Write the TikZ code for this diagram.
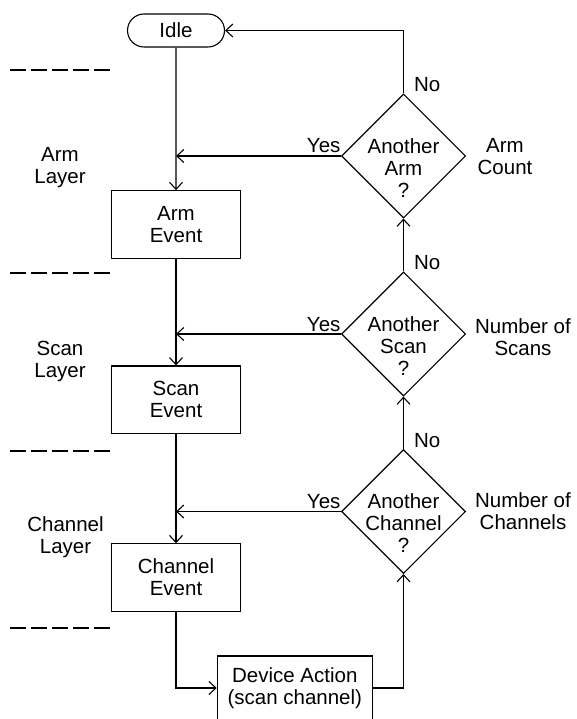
\documentclass[tikz,border=0pt]{standalone}
\usepackage{fontspec}
\setmainfont{Liberation Sans}
\usetikzlibrary{arrows.meta,shapes.geometric,shapes.misc}
\begin{document}
\begin{tikzpicture}[x=1pt,y=-1pt,
  font=\fontsize{20.5}{22}\selectfont,
  line width=1.1pt,
  flow/.style={-{Straight Barb[length=7pt,width=13pt,line width=1.1pt]}},
  box/.style={draw, rectangle, minimum width=128.5pt, minimum height=67.5pt, inner sep=0pt, align=center},
  dia/.style={draw, diamond, minimum width=124pt, minimum height=124pt, inner sep=0pt},
  txt/.style={align=center, inner sep=0pt},
  sep/.style={dash pattern=on 16pt off 5pt},
]
\useasboundingbox (0,0) rectangle (576,719);

% separators
\draw[sep] (10,70) -- (110,70);
\draw[sep] (10,273) -- (110,273);
\draw[sep] (10,451) -- (110,451);
\draw[sep] (10,628) -- (110,628);

% layer labels
\node[txt] (larm) at (60,167.5) {Arm\\Layer};
\node[txt] (lscan) at (60,361) {Scan\\Layer};
\node[txt] (lchan) at (65.5,537.3) {Channel\\Layer};

% main nodes
\node[draw, rounded rectangle, minimum width=97pt, minimum height=33pt, inner sep=0pt] (idle) at (176,30.5) {Idle};
\node[box] (arm) at (176,224.4) {Arm\\Event};
\node[box] (scan) at (176,399.7) {Scan\\Event};
\node[box] (chan) at (176,577.5) {Channel\\Event};
\node[draw, rectangle, minimum width=155pt, minimum height=64pt, inner sep=0pt, align=center] (dev) at (294.8,688) {Device Action\\(scan channel)};

% decisions
\node[dia] (d1) at (403.5,156) {};
\node[dia] (d2) at (403.5,334) {};
\node[dia] (d3) at (403.5,511.5) {};
\node[txt] (t1) at ([yshift=-12pt]d1.center) {Another\\Arm\\?};
\node[txt] (t2) at ([yshift=-12pt]d2.center) {Another\\Scan\\?};
\node[txt] (t3) at ([yshift=-12pt]d3.center) {Another\\Channel\\?};

% right labels
\node[txt] (r1) at (505,156.7) {Arm\\Count};
\node[txt] (r2) at (523,336.7) {Number of\\Scans};
\node[txt] (r3) at (523,511.5) {Number of\\Channels};

% yes / no labels
\node[txt, anchor=base east] (y1) at ([yshift=3pt]d1.west) {Yes};
\node[txt, anchor=base east] (y2) at ([yshift=3pt]d2.west) {Yes};
\node[txt, anchor=base east] (y3) at ([yshift=3pt]d3.west) {Yes};
\node[txt, anchor=base west] (n1) at ([xshift=10pt,yshift=1.5pt]d1.north) {No};
\node[txt, anchor=base west] (n2) at ([xshift=10pt,yshift=1.5pt]d2.north) {No};
\node[txt, anchor=base west] (n3) at ([xshift=10pt,yshift=1.5pt]d3.north) {No};

% connectors
\draw[flow] (idle) -- (arm);
\draw[flow] (arm) -- (scan);
\draw[flow] (scan) -- (chan);
\draw[flow] (chan.south) |- (dev.west);
\draw[flow] (dev.east) -| (d3.south);
\draw[flow] (d3) -- (d2);
\draw[flow] (d2) -- (d1);
\draw[flow] (d1.north) |- (idle.east);
\draw[flow] (d1.west) -- (d1.west -| idle.south);
\draw[flow] (d2.west) -- (d2.west -| idle.south);
\draw[flow] (d3.west) -- (d3.west -| idle.south);
\end{tikzpicture}
\end{document}
